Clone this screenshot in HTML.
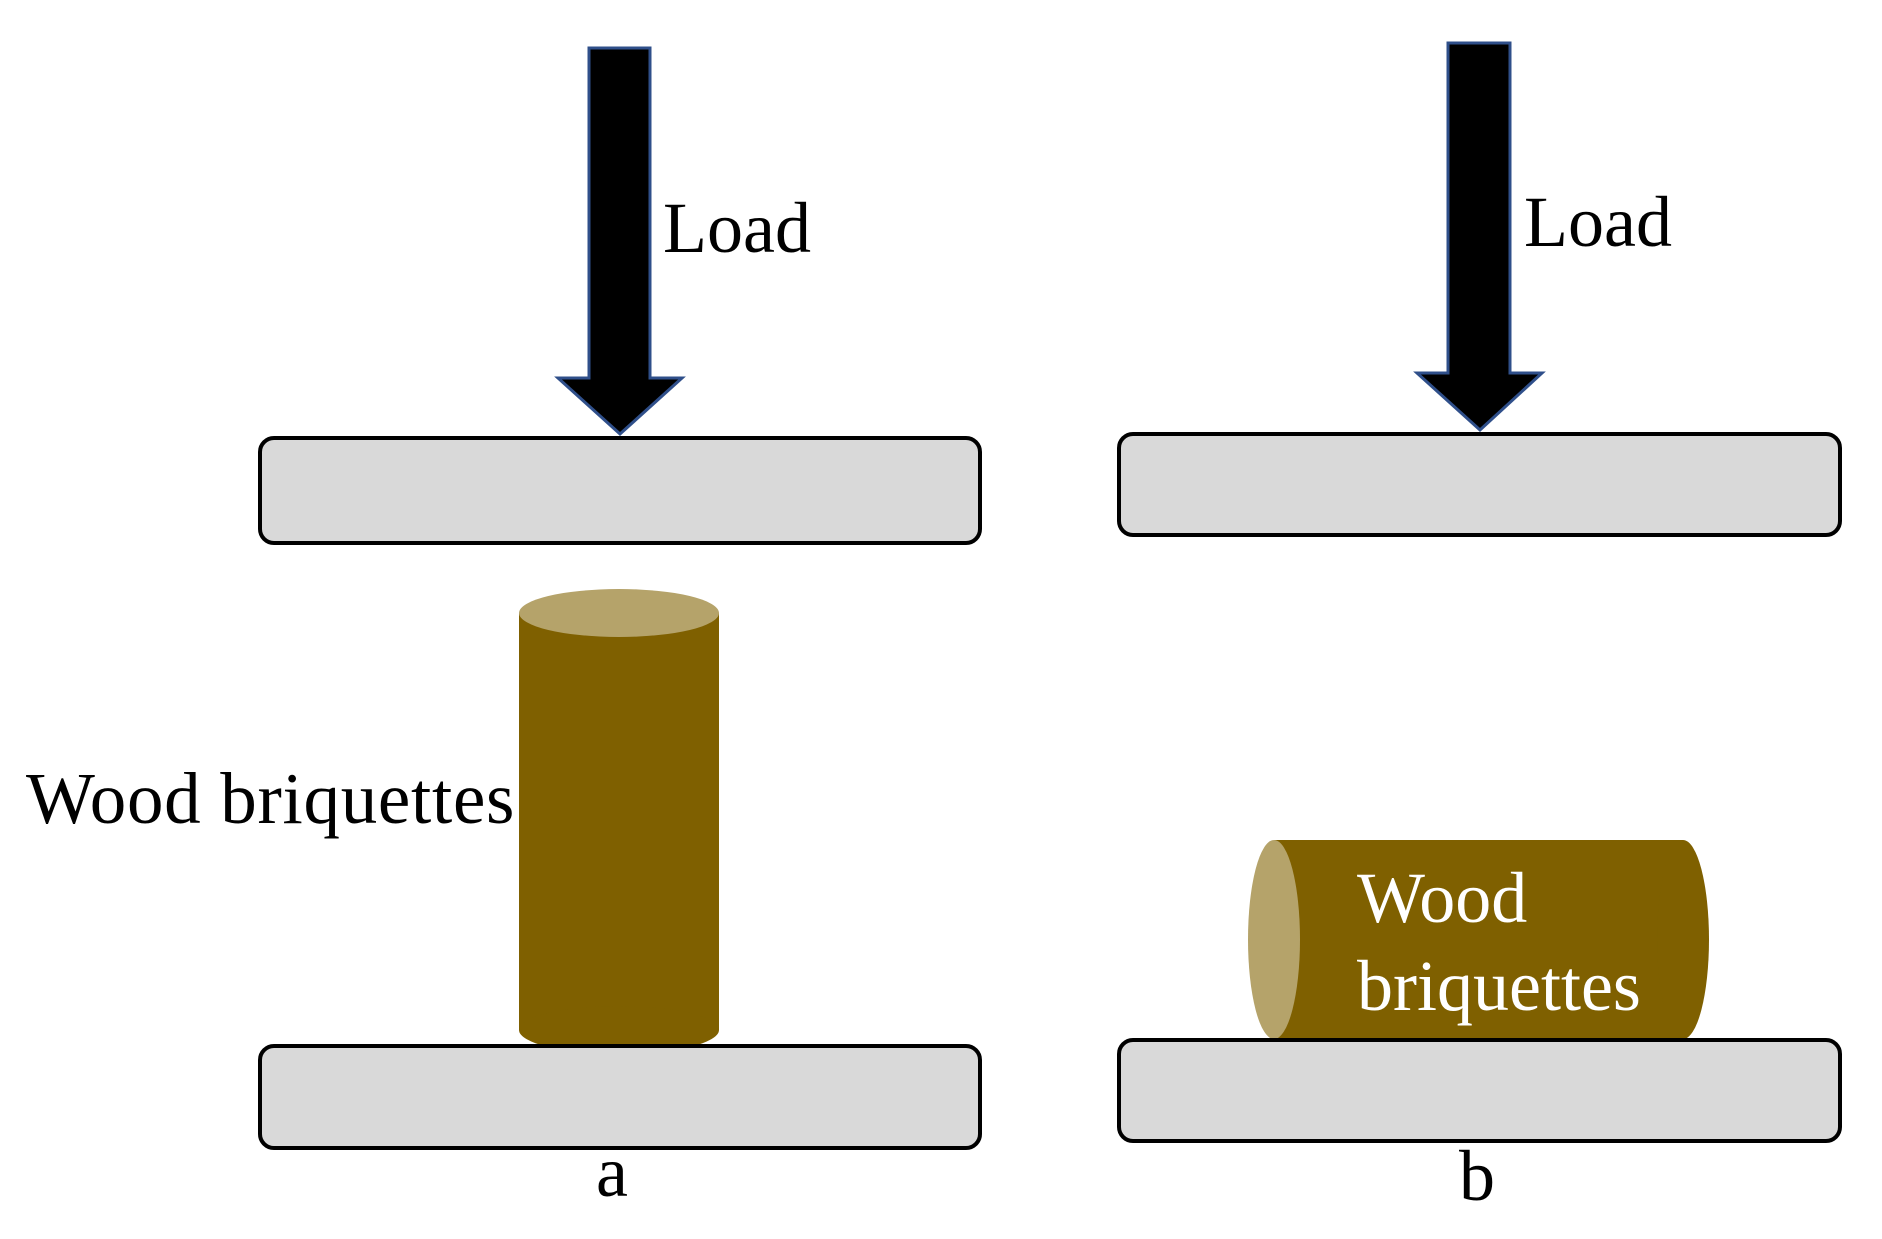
<!DOCTYPE html>
<html><head><meta charset="utf-8"><style>html,body{margin:0;padding:0;background:#fff}</style></head>
<body>
<svg width="1882" height="1234" viewBox="0 0 1882 1234" xmlns="http://www.w3.org/2000/svg" font-family="Liberation Serif, serif">
<rect width="1882" height="1234" fill="#fff"/>
<!-- left -->
<polygon points="589,48 650,48 650,378 682,378 620,434 558,378 589,378" fill="#000" stroke="#2f4f8a" stroke-width="3"/>
<text x="663" y="252" font-size="72" fill="#000">Load</text>
<rect x="260" y="438" width="720" height="105" rx="14" fill="#d9d9d9" stroke="#000" stroke-width="4"/>
<rect x="519" y="613" width="200" height="417" fill="#7f6000"/>
<ellipse cx="619" cy="1030" rx="100" ry="24" fill="#7f6000"/>
<ellipse cx="619" cy="613" rx="100" ry="24" fill="#b5a36a"/>
<rect x="260" y="1046" width="720" height="102" rx="14" fill="#d9d9d9" stroke="#000" stroke-width="4"/>
<text x="26" y="823" font-size="73" letter-spacing="0.7" fill="#000">Wood briquettes</text>
<text x="612" y="1196" font-size="72" fill="#000" text-anchor="middle">a</text>
<!-- right -->
<polygon points="1448,43 1510,43 1510,373 1542,373 1480,430 1417,373 1448,373" fill="#000" stroke="#2f4f8a" stroke-width="3"/>
<text x="1524" y="246" font-size="72" fill="#000">Load</text>
<rect x="1119" y="434" width="721" height="101" rx="14" fill="#d9d9d9" stroke="#000" stroke-width="4"/>
<rect x="1274" y="840" width="409" height="199" fill="#7f6000"/>
<ellipse cx="1683" cy="939.5" rx="26" ry="99.5" fill="#7f6000"/>
<ellipse cx="1274" cy="939.5" rx="26" ry="99.5" fill="#b5a36a"/>
<rect x="1119" y="1040" width="721" height="101" rx="14" fill="#d9d9d9" stroke="#000" stroke-width="4"/>
<text x="1357" y="922" font-size="72" fill="#fff">Wood</text>
<text x="1357" y="1010" font-size="72" fill="#fff">briquettes</text>
<text x="1477" y="1200" font-size="72" fill="#000" text-anchor="middle">b</text>
</svg>
</body></html>
